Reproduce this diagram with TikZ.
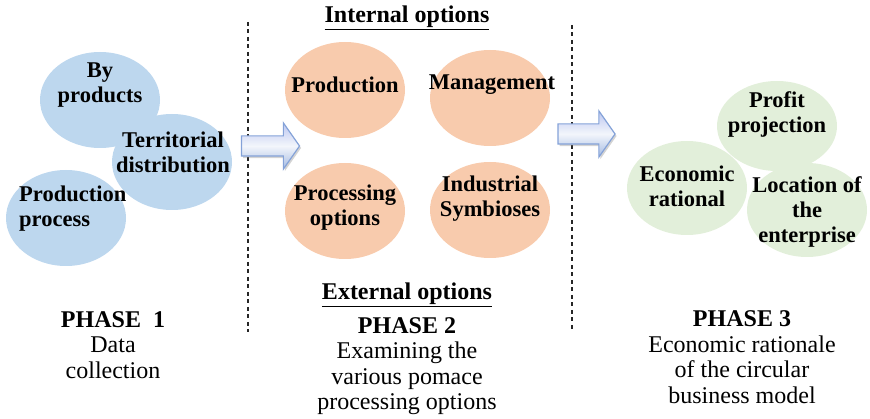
\documentclass[tikz,border=0pt]{standalone}
\usepackage{fontspec}
\setmainfont{Liberation Serif}
\usetikzlibrary{shapes.geometric,shapes.arrows,shadows}
\definecolor{blueblob}{HTML}{BDD7EE}
\definecolor{orangeblob}{HTML}{F8CBAD}
\definecolor{greenblob}{HTML}{E2EFDA}
\definecolor{arrowline}{HTML}{84A2D8}
\begin{document}
\begin{tikzpicture}[x=1pt,y=-1pt,
	blob/.style={ellipse,minimum width=120pt,minimum height=96pt,inner sep=0pt},
	lbl/.style={font=\fontsize{22.5}{25}\selectfont\bfseries,align=center,inner sep=0pt},
	caption/.style={font=\fontsize{24}{25.5}\selectfont,align=center,inner sep=0pt},
	divider/.style={dash pattern=on 4pt off 3.5pt,line width=1.3pt,black!85},
	phasearrow/.style={single arrow,draw=arrowline,line width=1.2pt,
		single arrow head extend=13pt,single arrow tip angle=110,
		minimum height=58pt,inner xsep=0pt,inner ysep=9.5pt,
		top color=blue!20!arrowline!45,bottom color=arrowline!75,middle color=white!90!arrowline,
		drop shadow={shadow xshift=1.5pt,shadow yshift=-2pt,opacity=0.35}}]
	\useasboundingbox (0,0) rectangle (870,419);
	%dividers
	\draw[divider] (248,22) -- (248,332);
	\draw[divider] (572,25) -- (572,332);
	%first
	\node[blob,fill=blueblob] (byprod) at (100,100) {};
	\node[blob,fill=blueblob] (terr) at (172,162) {};
	\node[blob,fill=blueblob] (prodproc) at (66,218) {};
	\node[lbl] (byprodt) at (100,85) {By\\products};
	\node[lbl] (terrt) at (173,152) {Territorial\\distribution};
	\node[lbl,anchor=west,align=left] (prodproct) at (19,209) {Production\\process};
	\node[caption] (phaseone) at (113,345) {{\bfseries PHASE\ \ 1}\\Data\\collection};
	%second
	\node[phasearrow] (arrowone) at (267,146) {};
	\node[lbl,font=\fontsize{24}{25}\selectfont\bfseries] (internal) at (407,18) {\underline{Internal options}};
	\node[blob,fill=orangeblob] (production) at (345,90) {};
	\node[blob,fill=orangeblob] (management) at (490,98) {};
	\node[blob,fill=orangeblob] (processing) at (345,211) {};
	\node[blob,fill=orangeblob] (symbioses) at (490,210) {};
	\node[lbl] (productiont) at (345,85) {Production};
	\node[lbl] (managementt) at (492,85) {Management};
	\node[lbl] (processingt) at (345,208) {Processing\\options};
	\node[lbl] (symbiosest) at (490,199) {Industrial\\Symbioses};
	\node[lbl,font=\fontsize{24}{25}\selectfont\bfseries] (external) at (407,295) {\underline{External options}};
	\node[caption] (phasetwo) at (407,366) {{\bfseries PHASE 2}\\Examining the\\various pomace\\processing options};
	%third
	\node[phasearrow,minimum height=57pt] (arrowtwo) at (583,134) {};
	\node[blob,fill=greenblob,minimum height=90pt] (profit) at (777,126) {};
	\node[blob,fill=greenblob,minimum height=94pt] (rational) at (687,188) {};
	\node[blob,fill=greenblob,minimum height=94pt] (location) at (807,210) {};
	\node[lbl] (profitt) at (777,114) {Profit\\projection};
	\node[lbl] (rationalt) at (687,186) {Economic\\rational};
	\node[lbl] (locationt) at (807,212) {Location of\\the\\enterprise};
	\node[caption] (phasethree) at (742,357) {{\bfseries PHASE 3}\\Economic rationale\\of the circular\\business model};
\end{tikzpicture}
\end{document}
